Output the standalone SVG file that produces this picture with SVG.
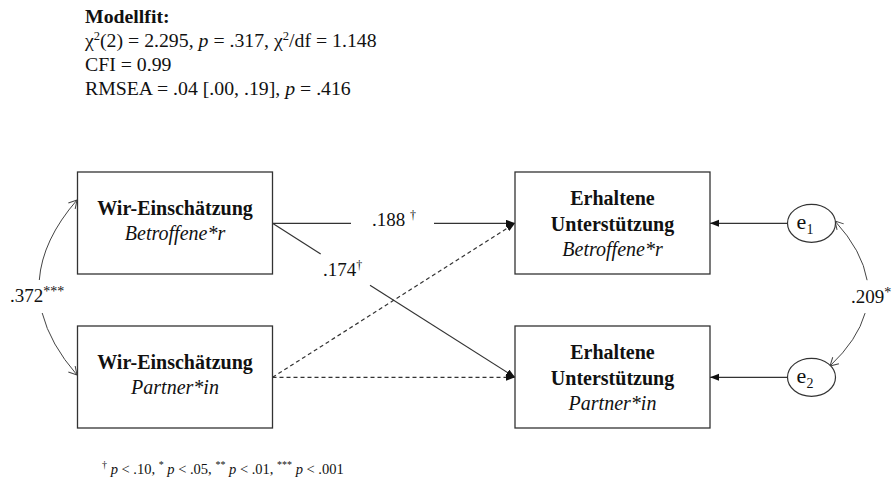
<svg xmlns="http://www.w3.org/2000/svg" width="893" height="482" viewBox="0 0 893 482">
  <style>
    text { font-family: "Liberation Serif", "Times New Roman", serif; fill: #111; }
    .fit { font-size: 19.8px; }
    .lbl { font-size: 19px; }
    .head { font-size: 20px; font-weight: bold; }
    .sub { font-size: 20px; font-style: italic; }
    .note { font-size: 14.5px; }
    .box { fill: #fff; stroke: #333; stroke-width: 1.3; }
    .err { fill: #fff; stroke: #333; stroke-width: 1.2; }
    .path { fill: none; stroke: #333; stroke-width: 1.2; }
    .dash { stroke-dasharray: 4 3; }
    .cov { fill: none; stroke: #444; stroke-width: 1; }
  </style>
  <defs>
    <marker id="head" markerUnits="userSpaceOnUse" markerWidth="10" markerHeight="8" refX="9" refY="3.5" orient="auto">
      <path d="M0,0 L9,3.5 L0,7 z" fill="#111"/>
    </marker>
    <marker id="open" markerUnits="userSpaceOnUse" markerWidth="12" markerHeight="12" refX="9" refY="5" orient="auto-start-reverse">
      <path d="M1,0.5 L9,5 L1,9.5" fill="none" stroke="#444" stroke-width="1"/>
    </marker>
  </defs>

  <!-- model fit summary -->
  <g id="modelfit">
    <text class="fit" x="85" y="23" font-weight="bold">Modellfit:</text>
    <text class="fit" x="85" y="47">χ<tspan font-size="12.5" dy="-7">2</tspan><tspan dy="7">(2) = 2.295, </tspan><tspan font-style="italic">p</tspan> = .317, χ<tspan font-size="12.5" dy="-7">2</tspan><tspan dy="7">/df = 1.148</tspan></text>
    <text class="fit" x="85" y="71">CFI = 0.99</text>
    <text class="fit" x="85" y="95">RMSEA = .04 [.00, .19], <tspan font-style="italic">p</tspan> = .416</text>
  </g>

  <!-- connectors -->
  <g id="connectors">
    <path class="path" d="M272.5,223.3 H351"/>
    <path class="path" d="M434,223.3 H515" marker-end="url(#head)"/>
    <path class="path" d="M272.5,223.3 L320.7,253.9"/>
    <path class="path" d="M370,285.2 L515,377.3" marker-end="url(#head)"/>
    <path class="path dash" d="M272.5,377.3 L515,223.3" marker-end="url(#head)"/>
    <path class="path dash" d="M272.5,377.3 H515" marker-end="url(#head)"/>
    <path class="path" d="M787.5,223.3 H710" marker-end="url(#head)"/>
    <path class="path" d="M787.5,377.3 H710" marker-end="url(#head)"/>
    <!-- covariance between predictors -->
    <path class="cov" d="M77,200 Q42.3,240 39.3,280" marker-start="url(#open)"/>
    <path class="cov" d="M42.2,313 Q50.1,344 77,375" marker-end="url(#open)"/>
    <!-- residual covariance -->
    <path class="cov" d="M835,221 Q862.3,251 867.1,280.2" marker-start="url(#open)"/>
    <path class="cov" d="M865.1,313.1 Q857.6,339.9 830,366" marker-end="url(#open)"/>
    <text class="lbl" x="372" y="226">.188 <tspan font-size="12" dy="-7">†</tspan></text>
    <text class="lbl" x="323" y="276">.174<tspan font-size="12" dy="-7">†</tspan></text>
    <text class="lbl" x="10" y="302">.372<tspan font-size="14" dy="-6">***</tspan></text>
    <text class="lbl" x="851" y="303">.209<tspan font-size="14" dy="-6">*</tspan></text>
  </g>

  <g id="wir-betroffene">
    <rect class="box" x="77.5" y="172" width="195" height="102"/>
    <text class="head" x="175" y="215" text-anchor="middle">Wir-Einschätzung</text>
    <text class="sub" x="175" y="240" text-anchor="middle">Betroffene*r</text>
  </g>

  <g id="wir-partner">
    <rect class="box" x="77.5" y="326" width="195" height="102"/>
    <text class="head" x="175" y="369" text-anchor="middle">Wir-Einschätzung</text>
    <text class="sub" x="175" y="394" text-anchor="middle">Partner*in</text>
  </g>

  <g id="unterstuetzung-betroffene">
    <rect class="box" x="515" y="172" width="195" height="102"/>
    <text class="head" x="612.5" y="205" text-anchor="middle">Erhaltene</text>
    <text class="head" x="612.5" y="230.5" text-anchor="middle">Unterstützung</text>
    <text class="sub" x="612.5" y="255.5" text-anchor="middle">Betroffene*r</text>
  </g>

  <g id="unterstuetzung-partner">
    <rect class="box" x="515" y="326" width="195" height="102"/>
    <text class="head" x="612.5" y="359" text-anchor="middle">Erhaltene</text>
    <text class="head" x="612.5" y="384.5" text-anchor="middle">Unterstützung</text>
    <text class="sub" x="612.5" y="409.5" text-anchor="middle">Partner*in</text>
  </g>

  <g id="e1">
    <ellipse class="err" cx="811.5" cy="223.3" rx="24" ry="19"/>
    <text x="805" y="229" text-anchor="middle" font-size="22">e<tspan font-size="14" dy="5">1</tspan></text>
  </g>

  <g id="e2">
    <ellipse class="err" cx="811.5" cy="377.3" rx="24" ry="19"/>
    <text x="805" y="383" text-anchor="middle" font-size="22">e<tspan font-size="14" dy="5">2</tspan></text>
  </g>

  <!-- significance legend -->
  <g id="legend">
    <text class="note" x="102" y="474"><tspan font-size="10" dy="-6">†</tspan><tspan dy="6"> </tspan><tspan font-style="italic">p</tspan> &lt; .10, <tspan font-size="10" dy="-6">*</tspan><tspan dy="6"> </tspan><tspan font-style="italic">p</tspan> &lt; .05, <tspan font-size="10" dy="-6">**</tspan><tspan dy="6"> </tspan><tspan font-style="italic">p</tspan> &lt; .01, <tspan font-size="10" dy="-6">***</tspan><tspan dy="6"> </tspan><tspan font-style="italic">p</tspan> &lt; .001</text>
  </g>
</svg>
